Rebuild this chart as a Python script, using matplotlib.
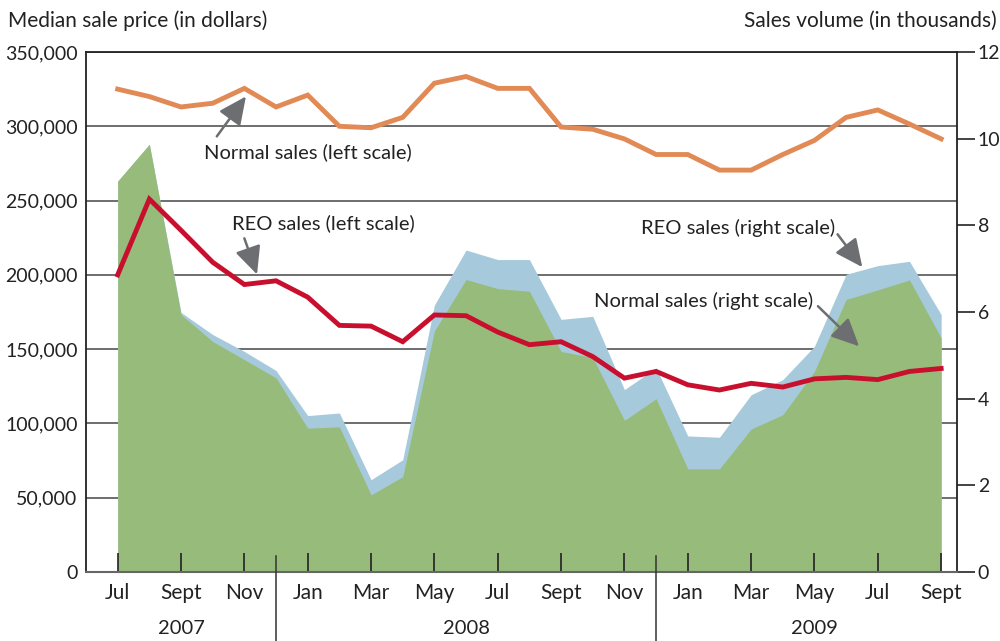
import matplotlib
matplotlib.use("Agg")
import matplotlib.pyplot as plt
from matplotlib.transforms import blended_transform_factory

plt.rcParams["font.family"] = ["Lato", "DejaVu Sans"]

# months Jul 2007 .. Sept 2009 (27 points)
months = list(range(27))
tick_labels = ["Jul", "Sept", "Nov", "Jan", "Mar", "May", "Jul", "Sept",
               "Nov", "Jan", "Mar", "May", "Jul", "Sept"]
years = ["2007", "2008", "2009"]
year_pos = [2, 11, 22]
year_breaks = [5, 17]

# median sale price, dollars (left scale)
normal_price = [325000, 320000, 313000, 315500, 325500, 313000, 321000, 300000,
                299000, 306000, 329000, 333500, 325500, 325500, 299500, 298000,
                291500, 281000, 281000, 270500, 270500, 281000, 290500, 306000,
                311000, 301500, 291500]
reo_price = [200000, 251000, 230000, 208500, 193500, 196000, 185000, 166000,
             165500, 155000, 173000, 172500, 161500, 153000, 155000, 145000,
             130500, 135000, 126000, 122500, 127000, 124500, 130000, 131000,
             129500, 135000, 137000]

# sales volume, thousands (right scale)
normal_vol = [9.02, 9.87, 5.94, 5.32, 4.90, 4.48, 3.32, 3.35, 1.78, 2.20, 5.56,
              6.75, 6.54, 6.48, 5.09, 4.95, 3.50, 4.00, 2.38, 2.38, 3.30, 3.63,
              4.63, 6.29, 6.51, 6.74, 5.40]
reo_vol = [0.0, 0.0, 0.05, 0.16, 0.19, 0.17, 0.29, 0.32, 0.35, 0.39, 0.60,
           0.68, 0.67, 0.73, 0.74, 0.95, 0.71, 0.71, 0.76, 0.73, 0.79, 0.81,
           0.58, 0.58, 0.56, 0.43, 0.54]
total_vol = [a + b for a, b in zip(normal_vol, reo_vol)]

GREEN = "#97bb7a"
BLUE = "#a6cadb"
ORANGE = "#e28a55"
RED = "#c8102e"
ARROW = "#6d6e71"
TXT = "#222222"

fig = plt.figure(figsize=(10, 6.41), dpi=100)
ax = fig.add_axes([0.086, 0.1076, 0.871, 0.8113])
ax2 = ax.twinx()
ax.set_zorder(2)
ax2.set_zorder(1)
ax.patch.set_visible(False)

ax.set_xlim(-1, 26.5)
ax.set_ylim(0, 350000)
ax2.set_ylim(0, 12)

# gridlines behind the areas, at left-scale values
grid_vals = list(range(50000, 350001, 50000))
tr = blended_transform_factory(ax2.transAxes, ax.transData)
for v in grid_vals:
    ax2.plot([0, 1], [v, v], transform=tr, color="#555555", lw=1.2, zorder=0)

ax2.fill_between(months, 0, total_vol, color=BLUE, lw=0, zorder=2)
ax2.fill_between(months, 0, normal_vol, color=GREEN, lw=0, zorder=3)

ax.plot(months, normal_price, color=ORANGE, lw=3.5, solid_joinstyle="miter", zorder=5)
ax.plot(months, reo_price, color=RED, lw=3.5, solid_joinstyle="miter", zorder=5)

# spines
for s in ax2.spines.values():
    s.set_visible(False)
for k in ["left", "top", "right"]:
    ax.spines[k].set_color("#222222")
    ax.spines[k].set_linewidth(1.3)
ax.spines["bottom"].set_color("#666666")
ax.spines["bottom"].set_linewidth(1.5)

# left axis
ax.set_yticks(range(0, 350001, 50000))
ax.set_yticklabels([f"{v:,}" for v in range(0, 350001, 50000)])
ax.tick_params(axis="y", length=0, pad=6, labelsize=14, labelcolor=TXT)

# right axis
ax2.set_yticks(range(0, 13, 2))
ax2.tick_params(axis="y", direction="out", length=13, width=1.2, color="#222222",
                pad=2, labelsize=14, labelcolor=TXT)

# x axis
ax.set_xticks(months[::2])
ax.set_xticklabels(tick_labels)
ax.tick_params(axis="x", direction="in", length=14, width=1.2, color="#222222",
               pad=8, labelsize=15, labelcolor=TXT)
xtr = blended_transform_factory(ax.transData, ax.transAxes)
for p, y in zip(year_pos, years):
    ax.text(p, -0.108, y, transform=xtr, ha="center", va="center",
            fontsize=14.5, color=TXT)
for b in year_breaks:
    ax.plot([b, b], [0.03, -0.135], transform=xtr, color="#333333", lw=1.1,
            clip_on=False, zorder=6)

fig.text(0.008, 0.968, "Median sale price (in dollars)", ha="left", va="center",
         fontsize=15, color=TXT)
fig.text(0.997, 0.968, "Sales volume (in thousands)", ha="right", va="center",
         fontsize=15, color=TXT)

# annotations: text and arrows
arw = dict(arrowstyle="-|>,head_length=0.85,head_width=0.4", color=ARROW, lw=1.8,
           shrinkA=0, shrinkB=0, mutation_scale=20)
notes = [
    ("Normal sales (left scale)", 6.0, 282600, (3.13, 293200), (4.05, 320100)),
    ("REO sales (left scale)", 6.49, 234700, (4.0, 224600), (4.40, 200300)),
    ("REO sales (right scale)", 19.58, 231300, (22.73, 227300), (23.51, 205200)),
    ("Normal sales (right scale)", 18.5, 182100, (22.11, 178900), (23.41, 151900)),
]
for label, tx, ty, tail, tip in notes:
    ax.text(tx, ty, label, ha="center", va="center", fontsize=14.5, color=TXT,
            zorder=7)
    ax.annotate("", xy=tip, xytext=tail, arrowprops=arw, zorder=7)

fig.savefig("out.png", dpi=100)
